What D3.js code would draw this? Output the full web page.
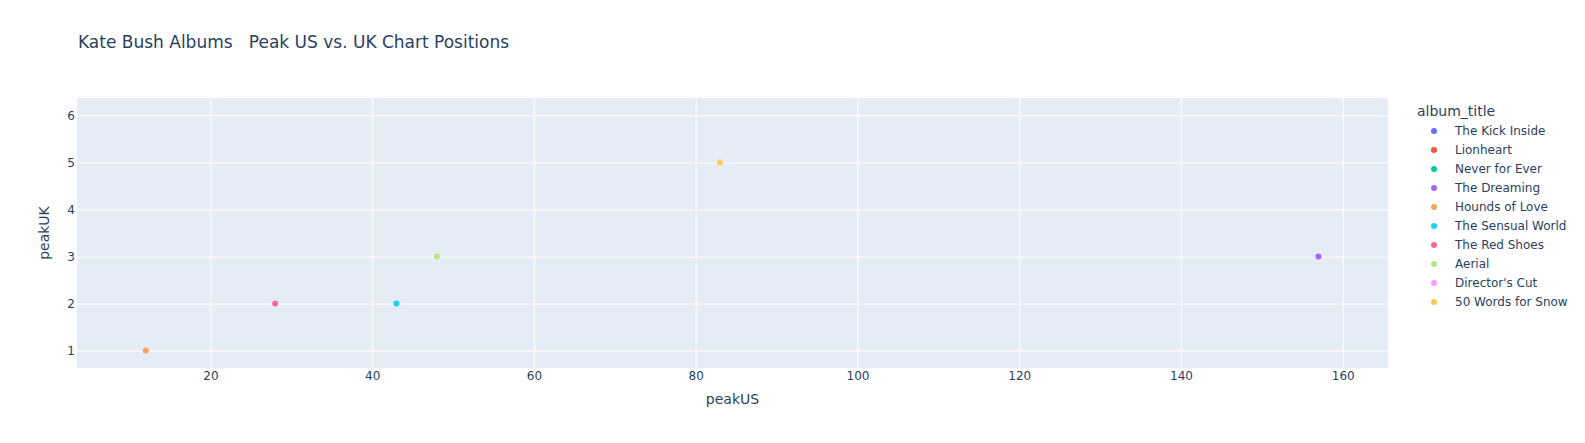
<!DOCTYPE html>
<html>
<head>
<meta charset="utf-8">
<script src="https://cdn.jsdelivr.net/npm/d3@7"></script>
<style>
  body { margin: 0; background: #fff; }
  text { font-family: "DejaVu Sans", verdana, arial, sans-serif; fill: #2a3f5f; }
</style>
</head>
<body>
<div id="chart-area"></div>
<script>
// album titles in legend order
var albums = ["The Kick Inside", "Lionheart", "Never for Ever", "The Dreaming", "Hounds of Love",
    "The Sensual World", "The Red Shoes", "Aerial", "Director's Cut", "50 Words for Snow"]
// peak positions (null = not plotted)
var peakUS = [null, null, null, 157, 12, 43, 28, 48, null, 83]
var peakUK = [null, null, null, 3, 1, 2, 2, 3, null, 5]
var xTicks = [20, 40, 60, 80, 100, 120, 140, 160]
var yTicks = [1, 2, 3, 4, 5, 6]
var colors = ["#636efa", "#EF553B", "#00cc96", "#ab63fa", "#FFA15A",
    "#19d3f3", "#FF6692", "#B6E880", "#FF97FF", "#FECB52"]

var fontStack = "\"DejaVu Sans\", verdana, arial, sans-serif"

var data = albums.map(function(name, i){
    return {name: name, us: peakUS[i], uk: peakUK[i]}
})

var margin = {top: 98, left: 77}
var width = 1311
var height = 270

var convertToX = d3.scaleLinear()
    .domain([3.5, 165.6])
    .range([0, width])

var convertToY = d3.scaleLinear()
    .domain([0.63, 6.37])
    .range([height, 0])

var paintAlbum = d3.scaleOrdinal()
    .domain(albums)
    .range(colors)

var svg = d3.select("#chart-area")
    .append("svg")
    .attr("width", 1585)
    .attr("height", 443)

svg.append("text")
    .attr("x", 78)
    .attr("y", 48)
    .attr("font-size", 17)
    .style("white-space", "pre")
    .text("Kate Bush Albums   Peak US vs. UK Chart Positions")

var group = svg.append("g")
    .attr("transform", "translate(" + margin.left + "," + margin.top + ")")

group.append("rect")
    .attr("width", width)
    .attr("height", height)
    .attr("fill", "#E5ECF6")

var xAxisCall = d3.axisBottom(convertToX)
    .tickValues(xTicks)
    .tickSize(-height)
    .tickPadding(3.5)
    .tickFormat(d3.format("d"))

var yAxisCall = d3.axisLeft(convertToY)
    .tickValues(yTicks)
    .tickSize(-width)
    .tickPadding(2)
    .tickFormat(d3.format("d"))

var xAxis = group.append("g")
    .attr("class", "x axis")
    .attr("transform", "translate(0," + height + ")")
    .call(xAxisCall)

var yAxis = group.append("g")
    .attr("class", "y axis")
    .call(yAxisCall)

;[xAxis, yAxis].forEach(function(ax){
    ax.select(".domain").remove()
    ax.selectAll("line").attr("stroke", "#fff").attr("stroke-width", 1)
    ax.selectAll("text")
        .attr("font-size", 12)
        .attr("font-family", fontStack)
        .attr("fill", "#2a3f5f")
})

group.append("text")
    .attr("x", width / 2)
    .attr("y", 306)
    .attr("text-anchor", "middle")
    .attr("font-size", 14)
    .text("peakUS")

group.append("text")
    .attr("transform", "translate(-28," + height / 2 + ") rotate(-90)")
    .attr("text-anchor", "middle")
    .attr("font-size", 14)
    .text("peakUK")

group.selectAll("circle")
    .data(data.filter(function(d){ return d.us != null && d.uk != null }))
    .enter().append("circle")
    .attr("cx", function(d){ return convertToX(d.us) })
    .attr("cy", function(d){ return convertToY(d.uk) })
    .attr("r", 3)
    .attr("fill", function(d){ return paintAlbum(d.name) })

// legend
var legend = svg.append("g")
    .attr("transform", "translate(1417,0)")

legend.append("text")
    .attr("x", 0)
    .attr("y", 116)
    .attr("font-size", 14)
    .text("album_title")

var items = legend.selectAll(".item")
    .data(albums)
    .enter().append("g")
    .attr("class", "item")
    .attr("transform", function(d, i){ return "translate(0," + (131 + i * 19) + ")" })

items.append("circle")
    .attr("cx", 17)
    .attr("r", 3)
    .attr("fill", function(d){ return paintAlbum(d) })

items.append("text")
    .attr("x", 38)
    .attr("dy", "0.35em")
    .attr("font-size", 12)
    .text(function(d){ return d })
</script>
</body>
</html>
